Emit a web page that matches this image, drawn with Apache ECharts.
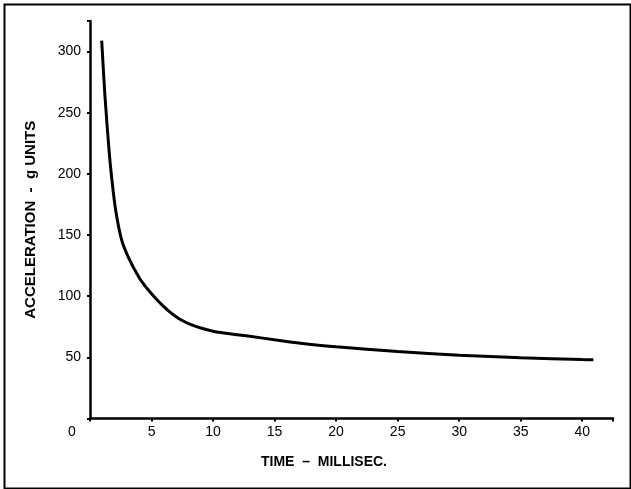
<!DOCTYPE html>
<html>
<head>
<meta charset="utf-8">
<script src="https://cdn.jsdelivr.net/npm/echarts@6/dist/echarts.min.js"></script>
<style>html,body{margin:0;padding:0;background:#fff}#c{width:631px;height:489px}</style>
</head>
<body>
<div id="c"></div>
<script>
var timeMs = [0.95, 1.22, 1.55, 1.76, 2.09, 2.57, 3.11, 4.0, 4.5, 5.0, 5.5, 6.0, 6.5, 7.0, 7.5, 8.0, 9.0, 10, 11.5, 12.7, 15.4, 17.1, 20, 25, 30, 35, 40, 40.9];
var accelG = [309, 263, 219, 197, 170, 146, 132, 115, 108, 102, 96.5, 91.5, 87, 83.2, 80.1, 77.6, 74, 71.4, 69, 67.6, 63.8, 61.6, 58.6, 54.8, 51.8, 49.7, 48.2, 48];
var xTicks = [5, 10, 15, 20, 25, 30, 35, 40];
var yTicks = [50, 100, 150, 200, 250, 300];
var xTitle = 'TIME  \u2013  MILLISEC.';
var yTitle = 'ACCELERATION  -  g UNITS';
var originLabel = '0';

var pts = timeMs.map(function (t, i) { return [t, accelG[i]]; });
var chart = echarts.init(document.getElementById('c'), null, {renderer: 'canvas'});
var font = 'Liberation Sans, Arial, sans-serif';
chart.setOption({
  animation: false,
  backgroundColor: '#fff',
  grid: {left: 90, right: 18, top: 21, bottom: 70.5, containLabel: false},
  xAxis: {
    type: 'value', min: 0, max: 42.5, interval: 5,
    axisLine: {lineStyle: {color: '#000', width: 2.5}},
    axisTick: {show: true, length: 3, lineStyle: {color: '#000', width: 2}},
    splitLine: {show: false},
    axisLabel: {
      color: '#000', fontSize: 14, fontFamily: font, margin: 7,
      formatter: function (v) { return xTicks.indexOf(v) >= 0 ? String(v) : ''; }
    }
  },
  yAxis: {
    type: 'value', min: 0, max: 325, interval: 50,
    name: yTitle, nameLocation: 'middle', nameGap: 52, nameRotate: 90,
    nameTextStyle: {color: '#000', fontSize: 15, fontWeight: 'bold', fontFamily: font},
    axisLine: {lineStyle: {color: '#000', width: 2.5}},
    axisTick: {show: true, length: 3, lineStyle: {color: '#000', width: 2}},
    splitLine: {show: false},
    axisLabel: {
      color: '#000', fontSize: 14, fontFamily: font, margin: 9,
      formatter: function (v) { return yTicks.indexOf(v) >= 0 ? String(v) : ''; }
    }
  },
  graphic: [
    {type: 'rect', left: 2, top: 2, shape: {width: 626, height: 484}, style: {fill: 'none', stroke: '#000', lineWidth: 2}, silent: true},
    {type: 'text', left: 261, top: 455, style: {text: xTitle, fill: '#000', font: 'bold 14px ' + font}},
    {type: 'text', left: 68, top: 425, style: {text: originLabel, fill: '#000', font: '14px ' + font}}
  ],
  series: [{
    type: 'line', data: pts, smooth: 0.3, showSymbol: false,
    lineStyle: {color: '#000', width: 3}
  }]
});
</script>
</body>
</html>
